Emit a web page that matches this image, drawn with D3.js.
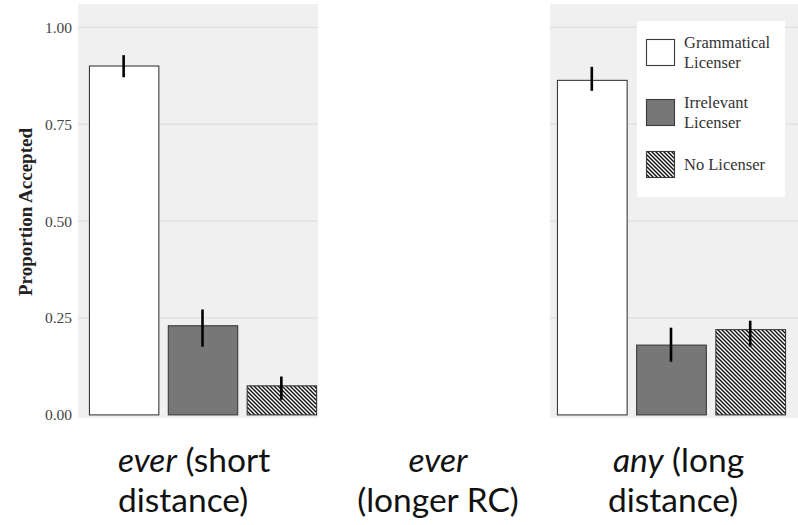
<!DOCTYPE html>
<html>
<head>
<meta charset="utf-8">
<script src="https://cdn.jsdelivr.net/npm/d3@7"></script>
<style>
  html, body { margin: 0; padding: 0; background: #fff; }
  svg { display: block; }
</style>
</head>
<body>
<svg id="chart" width="798" height="525"></svg>
<script>
// Licenser conditions (legend order)
const conditions = ["Grammatical Licenser", "Irrelevant Licenser", "No Licenser"];
const legendLines = [["Grammatical", "Licenser"], ["Irrelevant", "Licenser"], ["No Licenser"]];

// Panels that are drawn (the middle one is left blank)
const panels = ["ever (short distance)", "any (long distance)"];

// Mean proportion accepted, per panel, per condition
const meansShort = [0.900, 0.230, 0.075];
const meansLong = [0.863, 0.180, 0.220];

// Error-bar bounds
const lowShort = [0.871, 0.176, 0.039];
const highShort = [0.928, 0.272, 0.099];
const lowLong = [0.836, 0.137, 0.176];
const highLong = [0.898, 0.225, 0.243];

const yTicks = [0, 0.25, 0.5, 0.75, 1.0];

// Caption under each panel column: [italic word, rest of line 1, line 2]
const captions = [
  { italic: "ever", rest: " (short", line2: "distance)" },
  { italic: "ever", rest: "", line2: "(longer RC)" },
  { italic: "any", rest: " (long", line2: "distance)" }
];

const svg = d3.select("#chart");
const serif = "'Liberation Serif', 'Times New Roman', serif";

// Hatch pattern for the "No Licenser" condition
const defs = svg.append("defs");
const pat = defs.append("pattern")
  .attr("id", "hatch")
  .attr("patternUnits", "userSpaceOnUse")
  .attr("width", 4).attr("height", 4);
pat.append("rect").attr("width", 4).attr("height", 4).attr("fill", "#fff");
pat.append("path")
  .attr("d", "M-1,-1 L5,5 M-1,3 L1,5 M3,-1 L5,1")
  .attr("stroke", "#111").attr("stroke-width", 1.4);

const fills = ["#ffffff", "#777777", "url(#hatch)"];

const y = d3.scaleLinear().domain([-0.008, 1.06]).range([418, 4]);

const panelDefs = [
  { x0: 78, x1: 318, bandRange: [85, 320], means: meansShort, lo: lowShort, hi: highShort },
  { x0: 550, x1: 798, bandRange: [553, 789], means: meansLong, lo: lowLong, hi: highLong }
];

panelDefs.forEach((p, pi) => {
  const g = svg.append("g").attr("class", "panel").datum(panels[pi]);
  g.append("rect")
    .attr("x", p.x0).attr("y", y(1.06))
    .attr("width", p.x1 - p.x0).attr("height", y(-0.008) - y(1.06))
    .attr("fill", "#f0f0f0");

  g.selectAll("line.grid").data(yTicks.filter(d => d > 0)).join("line")
    .attr("class", "grid")
    .attr("x1", p.x0).attr("x2", p.x1)
    .attr("y1", d => y(d)).attr("y2", d => y(d))
    .attr("stroke", "#dadada").attr("stroke-width", 1);

  const x = d3.scaleBand().domain(conditions).range(p.bandRange)
    .paddingInner(0.12).paddingOuter(0.05);

  const rows = conditions.map((c, i) => ({ c, v: p.means[i], lo: p.lo[i], hi: p.hi[i], f: fills[i] }));

  g.selectAll("rect.bar").data(rows).join("rect")
    .attr("class", "bar")
    .attr("x", d => x(d.c) + 0.5)
    .attr("width", x.bandwidth())
    .attr("y", d => y(d.v))
    .attr("height", d => y(0) - y(d.v))
    .attr("fill", d => d.f)
    .attr("stroke", "#3a3a3a").attr("stroke-width", 1.1);

  g.selectAll("line.err").data(rows).join("line")
    .attr("class", "err")
    .attr("x1", d => x(d.c) + x.bandwidth() / 2)
    .attr("x2", d => x(d.c) + x.bandwidth() / 2)
    .attr("y1", d => y(d.lo)).attr("y2", d => y(d.hi))
    .attr("stroke", "#000").attr("stroke-width", 2.6);
});

// Y axis (left panel only)
const yAxis = d3.axisLeft(y).tickValues(yTicks).tickFormat(d3.format(".2f"))
  .tickSize(0).tickPadding(6);
const ax = svg.append("g").attr("transform", "translate(78,0)").call(yAxis);
ax.select(".domain").remove();
ax.selectAll(".tick text")
  .attr("font-family", serif).attr("font-size", 15.5).attr("fill", "#444");

svg.append("text")
  .attr("transform", "translate(32,212) rotate(-90)")
  .attr("text-anchor", "middle")
  .attr("font-family", serif).attr("font-weight", "bold")
  .attr("font-size", 19).attr("fill", "#222")
  .text("Proportion Accepted");

// Legend
const lg = svg.append("g").attr("class", "legend");
lg.append("rect").attr("x", 637).attr("y", 21).attr("width", 148).attr("height", 176).attr("fill", "#fff");
const keyY = [39, 99, 151];
conditions.forEach((c, i) => {
  lg.append("rect")
    .attr("x", 646.5).attr("y", keyY[i] + 0.5)
    .attr("width", 28).attr("height", 26)
    .attr("fill", fills[i]).attr("stroke", "#3a3a3a").attr("stroke-width", 1.1);
  const lines = legendLines[i];
  const t = lg.append("text")
    .attr("font-family", serif).attr("font-size", 16.5).attr("fill", "#333");
  const firstBase = lines.length === 2 ? keyY[i] + 9 : keyY[i] + 19;
  lines.forEach((l, j) => {
    t.append("tspan").attr("x", 684).attr("y", firstBase + j * 20).text(l);
  });
});

// Captions: left and right columns start-aligned, middle column centred
const capPos = [
  { anchor: "start", x1: 118, x2: 118 },
  { anchor: "middle", x1: 438, x2: 438 },
  { anchor: "start", x1: 613, x2: 608 }
];
const sans = "Lato, 'Open Sans', sans-serif";
const capSize = 33.5;
captions.forEach((c, i) => {
  const p = capPos[i];
  const t1 = svg.append("text").attr("x", p.x1).attr("y", 472)
    .attr("text-anchor", p.anchor)
    .attr("font-family", sans).attr("font-size", capSize).attr("fill", "#111");
  t1.append("tspan").attr("font-style", "italic").text(c.italic);
  if (c.rest) t1.append("tspan").text(c.rest);
  svg.append("text").attr("x", p.x2).attr("y", 512)
    .attr("text-anchor", p.anchor)
    .attr("font-family", sans).attr("font-size", capSize).attr("fill", "#111")
    .text(c.line2);
});
</script>
</body>
</html>
